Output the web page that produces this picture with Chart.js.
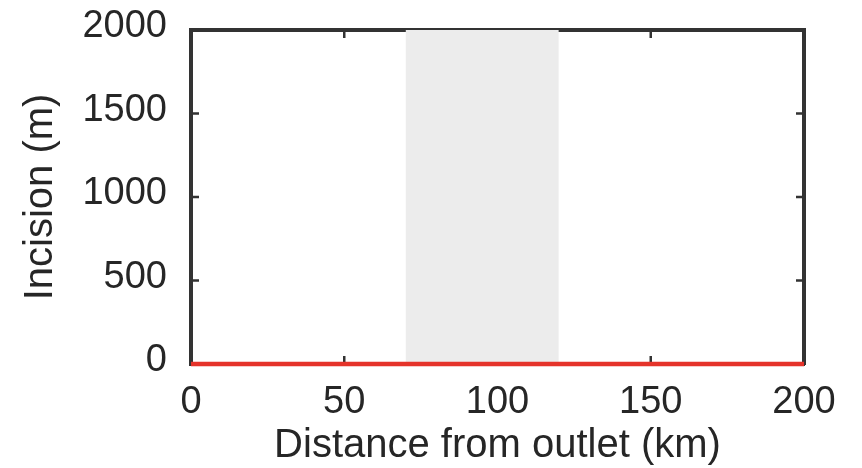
<!DOCTYPE html>
<html>
<head>
<meta charset="UTF-8">
<title>Incision</title>
<script src="https://cdn.jsdelivr.net/npm/chart.js@4.4.1/dist/chart.umd.min.js"></script>
<style>
  html, body { margin: 0; padding: 0; background: #fff; }
  #wrap { width: 862px; height: 468px; }
</style>
</head>
<body>
<div id="wrap"><canvas id="incisionChart" width="862" height="468"></canvas></div>
<script>
// profile along the river: incision vs distance from outlet
const distanceKm = [0, 200];
const incisionM = [0, 0];
// shaded reach (km)
const zoneKm = [70, 120];
const zoneTop = 2000;
const xTicks = [0, 50, 100, 150, 200];
const yTicks = [0, 500, 1000, 1500, 2000];

const FONT = "'Liberation Sans', Arial, Helvetica, sans-serif";
const AXIS = '#333333';
const TEXT = '#262626';

// MATLAB style ticks pointing into the box, on all four sides
const innerTicks = {
    id: 'innerTicks',
    beforeDatasetsDraw(chart) {
        const { ctx, chartArea: a, scales } = chart;
        const len = 8;
        ctx.save();
        ctx.strokeStyle = AXIS;
        ctx.lineWidth = 2.5;
        ctx.beginPath();
        xTicks.forEach(v => {
            const px = scales.x.getPixelForValue(v);
            ctx.moveTo(px, a.bottom); ctx.lineTo(px, a.bottom - len);
            ctx.moveTo(px, a.top); ctx.lineTo(px, a.top + len);
        });
        yTicks.forEach(v => {
            const py = scales.y.getPixelForValue(v);
            ctx.moveTo(a.left, py); ctx.lineTo(a.left + len, py);
            ctx.moveTo(a.right, py); ctx.lineTo(a.right - len, py);
        });
        ctx.stroke();
        ctx.restore();
    }
};

const border = { display: true, color: AXIS, width: 4 };

new Chart(document.getElementById('incisionChart').getContext('2d'), {
    type: 'line',
    data: {
        datasets: [
            {
                label: 'incision',
                data: distanceKm.map((d, i) => ({ x: d, y: incisionM[i] })),
                borderColor: '#e5332a',
                borderWidth: 4.5,
                pointRadius: 0,
                fill: false,
                clip: false,
                order: 0
            },
            {
                label: 'zone',
                data: zoneKm.map(d => ({ x: d, y: zoneTop })),
                borderWidth: 0,
                borderColor: 'rgba(0,0,0,0)',
                backgroundColor: '#ececec',
                pointRadius: 0,
                fill: 'origin',
                order: 1
            }
        ]
    },
    options: {
        responsive: false,
        animation: false,
        devicePixelRatio: 1,
        layout: { padding: 0, autoPadding: false },
        plugins: {
            legend: { display: false },
            tooltip: { enabled: false }
        },
        scales: {
            x: {
                type: 'linear',
                position: 'bottom',
                min: 0, max: 200,
                afterBuildTicks: s => { s.ticks = xTicks.map(v => ({ value: v })); },
                afterFit: s => {
                    s.height = 104;
                    s.paddingLeft = 0;
                    s.paddingRight = 0;
                },
                grid: { display: false, drawTicks: false },
                border: border,
                ticks: {
                    color: TEXT,
                    padding: 16,
                    maxRotation: 0,
                    autoSkip: false,
                    callback: v => String(v),
                    font: { family: FONT, size: 38, lineHeight: 1.2 }
                },
                title: {
                    display: true,
                    text: 'Distance from outlet (km)',
                    color: TEXT,
                    padding: { top: 0, bottom: 2 },
                    font: { family: FONT, size: 40, lineHeight: 1 }
                }
            },
            y: {
                type: 'linear',
                position: 'left',
                min: 0, max: 2000,
                afterBuildTicks: s => { s.ticks = yTicks.map(v => ({ value: v })); },
                afterFit: s => {
                    s.width = 191;
                    // keep the top label from pushing the box down
                    s.paddingTop = 0;
                    s.paddingBottom = 0;
                },
                grid: { display: false, drawTicks: false },
                border: border,
                ticks: {
                    color: TEXT,
                    padding: 24,
                    labelOffset: -3,
                    autoSkip: false,
                    callback: v => String(v),
                    font: { family: FONT, size: 38, lineHeight: 1.2 }
                },
                title: {
                    display: true,
                    text: 'Incision (m)',
                    color: TEXT,
                    padding: { top: 21, bottom: 0 },
                    font: { family: FONT, size: 40, lineHeight: 1 }
                }
            },
            xTop: {
                type: 'linear',
                position: 'top',
                min: 0, max: 200,
                afterFit: s => { s.height = 30; },
                grid: { display: false, drawTicks: false },
                border: border,
                ticks: { display: false }
            },
            yRight: {
                type: 'linear',
                position: 'right',
                min: 0, max: 2000,
                afterFit: s => { s.width = 58; },
                grid: { display: false, drawTicks: false },
                border: border,
                ticks: { display: false }
            }
        }
    },
    plugins: [innerTicks]
});
</script>
</body>
</html>
